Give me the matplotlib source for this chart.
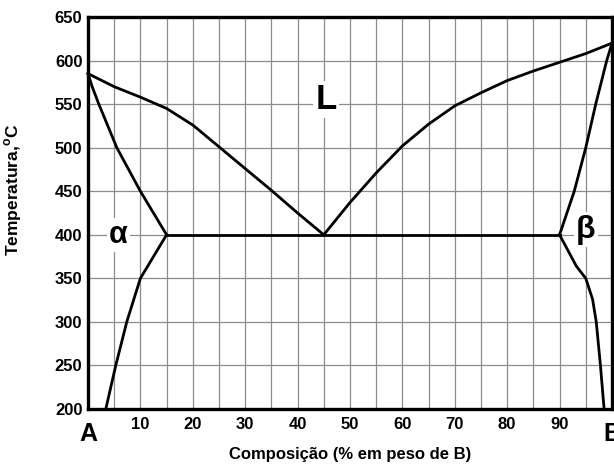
import matplotlib
matplotlib.use("Agg")
import matplotlib.pyplot as plt

plt.rcParams["font.family"] = ["Liberation Sans", "DejaVu Sans"]
plt.rcParams["font.weight"] = "bold"
plt.rcParams["axes.labelweight"] = "bold"
plt.rcParams["mathtext.fontset"] = "custom"
plt.rcParams["mathtext.bf"] = "Liberation Sans:bold"
plt.rcParams["mathtext.rm"] = "Liberation Sans:bold"

# liquidus, left branch (A side down to eutectic)
liq_left_x = [0, 5, 10, 15, 20, 25, 30, 35, 40, 45]
liq_left_t = [585, 570, 558, 545, 526, 501, 476, 451, 425, 400]

# liquidus, right branch (eutectic up to B)
liq_right_x = [45, 50, 55, 60, 65, 70, 75, 80, 85, 90, 95, 100]
liq_right_t = [400, 437, 471, 502, 527, 548, 563, 577, 588, 598, 608, 620]

# solidus alpha
sol_a_x = [0, 0.8, 2.0, 5.5, 10, 15]
sol_a_t = [585, 570, 551, 500, 450, 400]

# solvus alpha
solv_a_x = [15, 12.5, 10, 7.4, 5.3, 3.4]
solv_a_t = [400, 375, 350, 300, 250, 200]

# solidus beta
sol_b_x = [90, 92.8, 95, 96.9, 99, 100]
sol_b_t = [400, 450, 500, 550, 600, 620]

# solvus beta
solv_b_x = [90, 93.2, 95, 96.3, 97, 97.8, 98.5]
solv_b_t = [400, 364, 350, 326, 300, 250, 200]

# eutectic isotherm
eut_x = [15, 90]
eut_t = [400, 400]

x_ticks = [10, 20, 30, 40, 50, 60, 70, 80, 90]
y_ticks = [200, 250, 300, 350, 400, 450, 500, 550, 600, 650]

fig = plt.figure(figsize=(6.14, 4.68), dpi=100)
ax = fig.add_axes([0.1433, 0.126, 0.8534, 0.8377])

ax.set_xlim(0, 100)
ax.set_ylim(200, 650)
grid_x = list(range(0, 101, 5))
ax.set_xticks(grid_x)
ax.set_xticklabels([str(v) if v in x_ticks else "" for v in grid_x])
ax.set_yticks(y_ticks)
ax.tick_params(length=0, labelsize=12)
ax.tick_params(axis="x", pad=6)
ax.tick_params(axis="y", pad=4)
ax.grid(True, color="#8c8c8c", linewidth=0.9)
ax.set_axisbelow(True)
for s in ax.spines.values():
    s.set_linewidth(2.4)

for xs, ts in [(liq_left_x, liq_left_t), (liq_right_x, liq_right_t),
               (sol_a_x, sol_a_t), (solv_a_x, solv_a_t),
               (sol_b_x, sol_b_t), (solv_b_x, solv_b_t), (eut_x, eut_t)]:
    ax.plot(xs, ts, color="black", linewidth=2.0, solid_joinstyle="round",
            clip_on=False)

box = dict(facecolor="white", edgecolor="none", pad=1.5)
ax.text(5.8, 400, "α", fontsize=22, ha="center", va="center", bbox=box)
ax.text(45.4, 555, "L", fontsize=25, ha="center", va="center", bbox=box)
ax.text(95.0, 406, "β", fontsize=23, ha="center", va="center", bbox=box)

# component labels at both ends of the composition axis
ax.text(0, -0.033, "A", transform=ax.transAxes, fontsize=18,
        ha="center", va="top")
ax.text(1, -0.033, "B", transform=ax.transAxes, fontsize=18,
        ha="center", va="top")

ax.set_xlabel("Composição (% em peso de B)", fontsize=12)
ax.xaxis.set_label_coords(0.5, -0.097)
ax.set_ylabel(r"Temperatura,$^{\mathbf{o}}$C", fontsize=12.5)
ax.yaxis.set_label_coords(-0.122, 0.559)

fig.savefig("out.png", dpi=100)
